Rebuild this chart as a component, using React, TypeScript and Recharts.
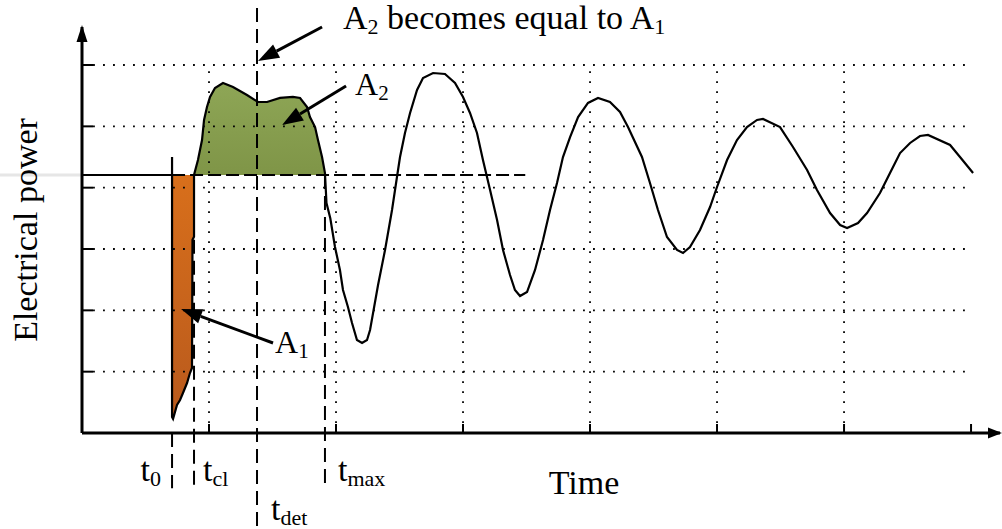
import React from 'react';
import {
  ComposedChart,
  Line,
  Area,
  XAxis,
  YAxis,
  ReferenceLine,
  ReferenceDot,
  Label,
} from 'recharts';

// sampled rotor-angle swing: time (axis units) and electrical power
const time = [
  0, 0.709, 0.709, 0.709,
  0.717, 0.748, 0.772, 0.795, 0.827, 0.85, 0.866, 0.87, 0.882, 0.882,
  0.913, 0.945, 0.961, 0.984, 1.008, 1.047, 1.11, 1.189, 1.299, 1.386,
  1.457, 1.559, 1.661, 1.717, 1.772, 1.795, 1.835, 1.858, 1.89, 1.913,
  1.925, 1.955, 1.992, 2.031, 2.055, 2.094, 2.126, 2.165, 2.205, 2.244,
  2.268, 2.331, 2.386, 2.441, 2.48, 2.504, 2.543, 2.583, 2.638, 2.685,
  2.764, 2.858, 2.937, 3.0, 3.055, 3.11, 3.157, 3.213, 3.268, 3.315,
  3.37, 3.409, 3.449, 3.504, 3.567, 3.63, 3.685, 3.74, 3.787, 3.843,
  3.906, 3.984, 4.063, 4.157, 4.236, 4.299, 4.409, 4.472, 4.535, 4.606,
  4.685, 4.732, 4.787, 4.866, 4.945, 5.0, 5.079, 5.157, 5.236, 5.315,
  5.362, 5.496, 5.598, 5.709, 5.787, 5.89, 5.969, 6.024, 6.11, 6.181,
  6.283, 6.362, 6.441, 6.52, 6.598, 6.661, 6.835, 6.913, 7.016,
];

const power = [
  4.207, 4.207, 4.5, 0.261,
  0.23, 0.457, 0.538, 0.652, 0.815, 0.978, 1.06, 3.15, 3.2, 4.207,
  4.451, 4.777, 5.104, 5.316, 5.479, 5.625, 5.707, 5.642, 5.511, 5.397,
  5.397, 5.463, 5.479, 5.463, 5.316, 5.152, 4.989, 4.777, 4.5, 4.239,
  3.75, 3.5, 3.033, 2.658, 2.332, 2.054, 1.794, 1.516, 1.467, 1.516,
  1.679, 2.413, 2.984, 3.636, 4.174, 4.5, 4.892, 5.218, 5.593, 5.788,
  5.87, 5.854, 5.707, 5.479, 5.218, 4.892, 4.451, 3.962, 3.473, 2.984,
  2.576, 2.332, 2.234, 2.299, 2.658, 3.147, 3.636, 4.076, 4.5, 4.826,
  5.152, 5.381, 5.462, 5.397, 5.234, 4.989, 4.5, 4.076, 3.636, 3.196,
  2.984, 2.935, 3.033, 3.31, 3.685, 4.011, 4.451, 4.777, 4.989, 5.104,
  5.12, 4.989, 4.663, 4.288, 3.962, 3.587, 3.391, 3.343, 3.424, 3.587,
  3.913, 4.239, 4.565, 4.729, 4.843, 4.859, 4.696, 4.5, 4.239,
];

// mechanical power level and event instants
const PM = 4.207;
const T0 = 0.709;
const TCL = 0.882;
const TDET = 1.378;
const TMAX = 1.913;

const xTicks = [1, 2, 3, 4, 5, 6, 7];
const yTicks = [1, 2, 3, 4, 5, 6];

const X_MAX = 7.228;
const Y_MAX = 6.62;

const SERIF = '"Liberation Serif", "Times New Roman", serif';

const data = time.map((t, i) => {
  const p = power[i];
  return {
    t,
    p,
    a1: t >= T0 && t <= TCL && p <= PM ? [p, PM] : null,
    a2: t >= TCL && t <= TMAX && p >= PM ? [PM, p] : null,
  };
});

const arrowShape = (props: any) => {
  const { x1, y1, x2, y2 } = props;
  const ang = Math.atan2(y2 - y1, x2 - x1);
  const len = 21;
  const half = 7.5;
  const bx = x2 - len * Math.cos(ang);
  const by = y2 - len * Math.sin(ang);
  const nx = -Math.sin(ang) * half;
  const ny = Math.cos(ang) * half;
  return (
    <g>
      <line x1={x1} y1={y1} x2={bx} y2={by} stroke="#000" strokeWidth={3} />
      <polygon
        points={`${x2},${y2} ${bx + nx},${by + ny} ${bx - nx},${by - ny}`}
        fill="#000"
      />
    </g>
  );
};

const subLabel = (main: string, sub: string, anchor: 'start' | 'end', dx: number, size = 34, subSize = 22) =>
  (props: any) => (
    <text
      x={props.cx + dx}
      y={props.cy}
      textAnchor={anchor}
      fontFamily={SERIF}
      fontSize={size}
      fill="#000"
    >
      {main}
      <tspan fontSize={subSize} dy={5}>
        {sub}
      </tspan>
    </text>
  );

const titleShape = (props: any) => (
  <text x={props.cx} y={props.cy} fontFamily={SERIF} fontSize={34} fill="#000">
    A
    <tspan fontSize={22} dy={5}>
      2
    </tspan>
    <tspan dy={-5}>{' becomes equal to A'}</tspan>
    <tspan fontSize={22} dy={5}>
      1
    </tspan>
  </text>
);

const plainText = (value: string, anchor: 'start' | 'middle') => (props: any) => (
  <text x={props.cx} y={props.cy} textAnchor={anchor} fontFamily={SERIF} fontSize={34} fill="#000">
    {value}
  </text>
);

const xArrowHead = (props: any) => (
  <polygon
    points={`${props.cx + 2},${props.cy} ${props.cx - 12},${props.cy - 5.5} ${props.cx - 12},${props.cy + 5.5}`}
    fill="#000"
  />
);

const yArrowHead = (props: any) => (
  <polygon
    points={`${props.cx},${props.cy - 2} ${props.cx - 5.5},${props.cy + 15} ${props.cx + 5.5},${props.cy + 15}`}
    fill="#000"
  />
);

const dotted = { stroke: '#000', strokeWidth: 1.8, strokeDasharray: '1.8 8.2' };
const dashed = { stroke: '#000', strokeWidth: 2, strokeDasharray: '14 7' };

export default function App() {
  return (
    <div style={{ position: 'absolute', left: 0, top: 0, width: 1002, height: 529, background: '#fff' }}>
      <ComposedChart
        width={1002}
        height={529}
        data={data}
        margin={{ top: 27, right: 2, bottom: 66, left: 0 }}
      >
        <defs>
          <linearGradient id="gA1" x1="0" y1="0" x2="0" y2="1">
            <stop offset="0%" stopColor="#d86f1b" />
            <stop offset="100%" stopColor="#b95a1d" />
          </linearGradient>
          <linearGradient id="gA2" x1="0" y1="0" x2="0" y2="1">
            <stop offset="0%" stopColor="#8ea656" />
            <stop offset="100%" stopColor="#7f9547" />
          </linearGradient>
        </defs>
        <XAxis
          type="number"
          dataKey="t"
          domain={[0, X_MAX]}
          allowDataOverflow
          ticks={xTicks}
          height={30}
          axisLine={{ stroke: '#000', strokeWidth: 3 }}
          tickLine={false}
          tickSize={0}
          tickMargin={0}
          tick={(p: any) => (
            <line x1={p.x} y1={p.y} x2={p.x} y2={p.y - 9} stroke="#000" strokeWidth={2} />
          )}
        />
        <YAxis
          type="number"
          domain={[0, Y_MAX]}
          allowDataOverflow
          ticks={yTicks}
          width={82}
          axisLine={{ stroke: '#000', strokeWidth: 3 }}
          tickLine={false}
          tickSize={0}
          tickMargin={0}
          tick={(p: any) => (
            <line x1={p.x} y1={p.y} x2={p.x + 11} y2={p.y} stroke="#000" strokeWidth={2} />
          )}
        >
          <Label
            content={(p: any) => {
              const vb = p.viewBox;
              const x = vb.x + 37;
              const y = vb.y + vb.height / 2;
              return (
                <text
                  x={x}
                  y={y}
                  transform={`rotate(-90, ${x}, ${y})`}
                  textAnchor="middle"
                  fontFamily={SERIF}
                  fontSize={34}
                  fill="#000"
                >
                  Electrical power
                </text>
              );
            }}
          />
        </YAxis>

        {/* dotted grid */}
        {yTicks.map((k) => (
          <ReferenceLine key={`h${k}`} segment={[{ x: 0.087, y: k }, { x: 6.97, y: k }]} {...dotted} />
        ))}
        {xTicks.slice(0, 6).map((k) => (
          <ReferenceLine key={`v${k}`} segment={[{ x: k, y: 0 }, { x: k, y: 6 }]} {...dotted} />
        ))}

        {/* faint pre-fault trace left of the axis */}
        <ReferenceLine
          segment={[{ x: -0.66, y: PM }, { x: 0, y: PM }]}
          ifOverflow="visible"
          stroke="#e6e6e6"
          strokeWidth={3}
        />

        {/* accelerating and decelerating areas */}
        <Area
          type="linear"
          dataKey="a1"
          stroke="none"
          fill="url(#gA1)"
          fillOpacity={1}
          isAnimationActive={false}
          activeDot={false}
        />
        <Area
          type="linear"
          dataKey="a2"
          stroke="none"
          fill="url(#gA2)"
          fillOpacity={1}
          isAnimationActive={false}
          activeDot={false}
        />

        {/* mechanical power level and event markers */}
        <ReferenceLine
          segment={[{ x: T0, y: PM }, { x: 3.49, y: PM }]}
          stroke="#000"
          strokeWidth={2}
          strokeDasharray="13 5"
        />
        <ReferenceLine segment={[{ x: T0, y: 0 }, { x: T0, y: -0.9 }]} ifOverflow="visible" {...dashed} />
        <ReferenceLine segment={[{ x: TCL, y: 3.15 }, { x: TCL, y: -0.93 }]} ifOverflow="visible" {...dashed} />
        <ReferenceLine segment={[{ x: TDET, y: 6.93 }, { x: TDET, y: -1.55 }]} ifOverflow="visible" {...dashed} />
        <ReferenceLine segment={[{ x: TMAX, y: PM }, { x: TMAX, y: -0.87 }]} ifOverflow="visible" {...dashed} />

        <Line
          type="linear"
          dataKey="p"
          stroke="#000"
          strokeWidth={2.2}
          dot={false}
          activeDot={false}
          isAnimationActive={false}
        />

        {/* axis arrow heads */}
        <ReferenceDot x={X_MAX} y={0} r={0} ifOverflow="visible" shape={xArrowHead} />
        <ReferenceDot x={0} y={Y_MAX} r={0} ifOverflow="visible" shape={yArrowHead} />

        {/* annotations */}
        <ReferenceLine segment={[{ x: 1.89, y: 6.62 }, { x: 1.386, y: 6.066 }]} ifOverflow="visible" shape={arrowShape} />
        <ReferenceLine segment={[{ x: 2.079, y: 5.658 }, { x: 1.575, y: 5.022 }]} shape={arrowShape} />
        <ReferenceLine segment={[{ x: 1.504, y: 1.467 }, { x: 0.78, y: 2.022 }]} shape={arrowShape} />

        <ReferenceDot x={2.055} y={6.587} r={0} ifOverflow="visible" shape={titleShape} />
        <ReferenceDot x={2.15} y={5.511} r={0} shape={subLabel('A', '2', 'start', 0, 32, 21)} />
        <ReferenceDot x={1.52} y={1.304} r={0} shape={subLabel('A', '1', 'start', 0, 32, 21)} />

        <ReferenceDot x={T0} y={-0.78} r={0} ifOverflow="visible" shape={subLabel('t', '0', 'end', -11)} />
        <ReferenceDot x={TCL} y={-0.78} r={0} ifOverflow="visible" shape={subLabel('t', 'cl', 'start', 9)} />
        <ReferenceDot x={TMAX} y={-0.78} r={0} ifOverflow="visible" shape={subLabel('t', 'max', 'start', 13)} />
        <ReferenceDot x={TDET} y={-1.42} r={0} ifOverflow="visible" shape={subLabel('t', 'det', 'start', 14)} />
        <ReferenceDot x={3.953} y={-0.995} r={0} ifOverflow="visible" shape={plainText('Time', 'middle')} />
      </ComposedChart>
    </div>
  );
}
